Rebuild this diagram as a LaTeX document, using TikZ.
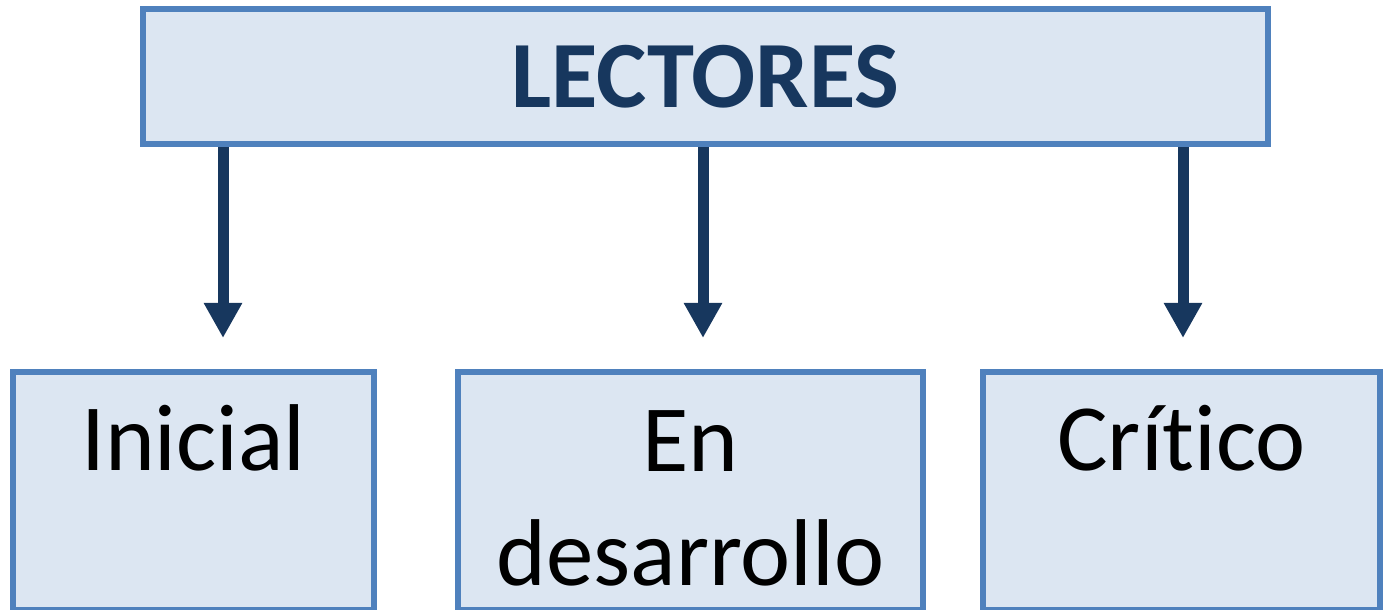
\documentclass[tikz,border=0pt]{standalone}
\usepackage{fontspec}
\setmainfont{Carlito}[Ligatures=NoCommon]
\usetikzlibrary{arrows.meta}
\definecolor{box-fill}{HTML}{DCE6F2}
\definecolor{box-line}{HTML}{4F81BD}
\definecolor{dark-navy}{HTML}{17375E}
\newlength{\basisa}
\setlength{\basisa}{1cm}

\begin{document}
\begin{tikzpicture}[
    lectorbox/.style={draw=box-line, fill=box-fill, line width=0.06\basisa, inner sep=0pt},
    levelbox/.style={lectorbox, anchor=north, align=center,
        text height=0.99\basisa, text depth=1.39\basisa,
        font=\fontsize{27}{32.7}\selectfont},
    downarrow/.style={-{Triangle[width=0.36cm,length=0.35cm]},
        draw=dark-navy, line width=0.11\basisa}]

    \useasboundingbox (0,0) rectangle (13.83\basisa,6.10\basisa);

    \draw (7.055\basisa,5.335\basisa) 
		node[lectorbox, minimum width=11.25\basisa, minimum height=1.35\basisa,
			text=dark-navy, font=\fontsize{27}{32.7}\selectfont\bfseries] 
			(Lectores) {LECTORES};

    \draw (1.935\basisa,2.41\basisa) 
		node[levelbox, minimum width=3.61\basisa] 
			(Inicial) {Inicial};
	% two lines: the baseline is the last one
    \draw (6.905\basisa,2.41\basisa) 
		node[levelbox, minimum width=4.65\basisa, text height=2.14\basisa, text depth=0.24\basisa] 
			(Desarrollo) {En\\desarrollo};
    \draw (11.815\basisa,2.41\basisa) 
		node[levelbox, minimum width=3.97\basisa] 
			(Critico) {Crítico};

	% arrow tips stop short of the boxes
    \coordinate (TipInicial) at (2.23\basisa,2.72\basisa);
    \coordinate (TipDesarrollo) at (7.03\basisa,2.72\basisa);
    \coordinate (TipCritico) at (11.83\basisa,2.72\basisa);

	\draw[downarrow] (Lectores.south -| TipInicial) -- (TipInicial);
	\draw[downarrow] (Lectores.south -| TipDesarrollo) -- (TipDesarrollo);
	\draw[downarrow] (Lectores.south -| TipCritico) -- (TipCritico);
\end{tikzpicture}
\end{document}
